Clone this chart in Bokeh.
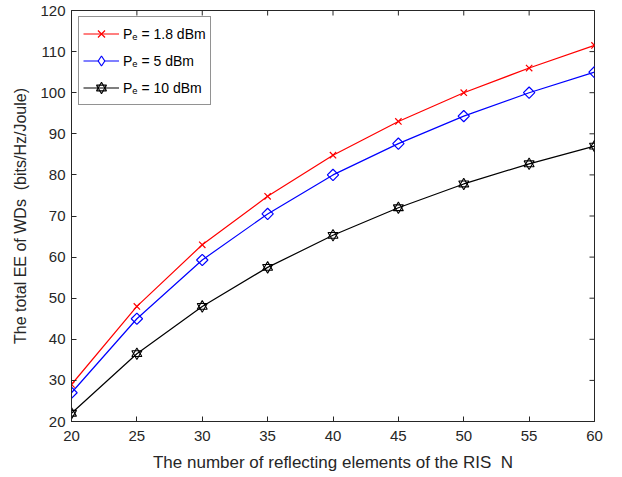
import math
from bokeh.plotting import figure
from bokeh.models import Range1d, FixedTicker, Legend, LegendItem
from bokeh.embed import file_html
from bokeh.resources import INLINE

N = [20, 25, 30, 35, 40, 45, 50, 55, 60]
ee_18 = [29.0, 48.0, 63.0, 74.8, 84.8, 93.0, 100.0, 106.0, 111.5]
ee_5 = [27.0, 45.0, 59.3, 70.5, 80.0, 87.6, 94.3, 100.0, 105.0]
ee_10 = [22.0, 36.5, 48.0, 57.5, 65.3, 72.0, 77.8, 82.7, 87.0]
labels = ["P\u2091 = 1.8 dBm", "P\u2091 = 5 dBm", "P\u2091 = 10 dBm"]
x_ticks = [20, 25, 30, 35, 40, 45, 50, 55, 60]
y_ticks = [20, 30, 40, 50, 60, 70, 80, 90, 100, 110, 120]
x_min, x_max = 20, 60
y_min, y_max = 20, 120

FONT = "Liberation Sans"
AX = "#262626"

p = figure(width=622, height=477, output_backend="svg", toolbar_location=None,
           x_range=Range1d(x_min, x_max), y_range=Range1d(y_min, y_max),
           min_border_left=71, min_border_right=28, min_border_top=10,
           min_border_bottom=56)
p.xgrid.visible = False
p.ygrid.visible = False
p.outline_line_color = AX
p.outline_line_width = 1
p.background_fill_color = "white"
p.border_fill_color = "white"

for ax, ticks in ((p.xaxis[0], x_ticks), (p.yaxis[0], y_ticks)):
    ax.ticker = FixedTicker(ticks=ticks)
    ax.axis_line_color = AX
    ax.major_tick_line_color = AX
    ax.major_tick_in = 5
    ax.major_tick_out = 0
    ax.minor_tick_line_color = None
    ax.major_label_text_font = FONT
    ax.major_label_text_color = AX
    ax.major_label_text_font_size = "15px"
    ax.axis_label_text_font = FONT
    ax.axis_label_text_font_style = "normal"
    ax.axis_label_text_color = AX

p.xaxis[0].axis_label = "The number of reflecting elements of the RIS\u00a0\u00a0N"
p.yaxis[0].axis_label = "The total EE of WDs\u00a0\u00a0(bits/Hz/Joule)"
p.xaxis[0].axis_label_text_font_size = "17px"
p.yaxis[0].axis_label_text_font_size = "16px"
p.xaxis[0].major_label_standoff = 9
p.yaxis[0].major_label_standoff = 6
p.xaxis[0].axis_label_standoff = 9
p.yaxis[0].axis_label_standoff = 8

# inward tick marks on the top and right edges of the box (half of each dash is clipped)
p.scatter(x_ticks, [y_max] * len(x_ticks), marker="dash", angle=math.pi / 2,
          size=10, line_color=AX, line_width=1)
p.scatter([x_max] * len(y_ticks), y_ticks, marker="dash", size=10,
          line_color=AX, line_width=1)

l1 = p.line(N, ee_18, line_color="red", line_width=1.2)
m1 = p.scatter(N, ee_18, marker="x", size=9, line_color="red", line_width=1.2)

l2 = p.line(N, ee_5, line_color="blue", line_width=1.2)
m2 = p.scatter(N, ee_5, marker="square", angle=math.pi / 4, size=8,
               line_color="blue", fill_color=None, line_width=1.2)
# zero-size twin used only by the legend so the legend shows a diamond shape
m2_leg = p.scatter(N, ee_5, marker="diamond", size=0,
                   line_color="blue", fill_color="white", line_width=1.2)

l3 = p.line(N, ee_10, line_color="black", line_width=1.2)
m3a = p.scatter(N, ee_10, marker="triangle", size=10, line_color="black",
                fill_color=None, line_width=1.1)
m3b = p.scatter(N, ee_10, marker="inverted_triangle", size=10, line_color="black",
                fill_color=None, line_width=1.1)

legend = Legend(items=[
    LegendItem(label=labels[0], renderers=[l1, m1]),
    LegendItem(label=labels[1], renderers=[l2, m2_leg]),
    LegendItem(label=labels[2], renderers=[l3, m3a, m3b]),
], location=(7, 316))
legend.label_text_font = FONT
legend.label_text_font_size = "14px"
legend.label_text_color = "black"
legend.border_line_color = AX
legend.border_line_width = 1
legend.background_fill_color = "white"
legend.background_fill_alpha = 1
legend.margin = 0
legend.padding = 4
legend.spacing = 2
legend.glyph_width = 36
legend.glyph_height = 25
legend.label_height = 25
legend.label_standoff = 4
p.add_layout(legend)

open("out.html", "w").write(file_html(p, INLINE))
